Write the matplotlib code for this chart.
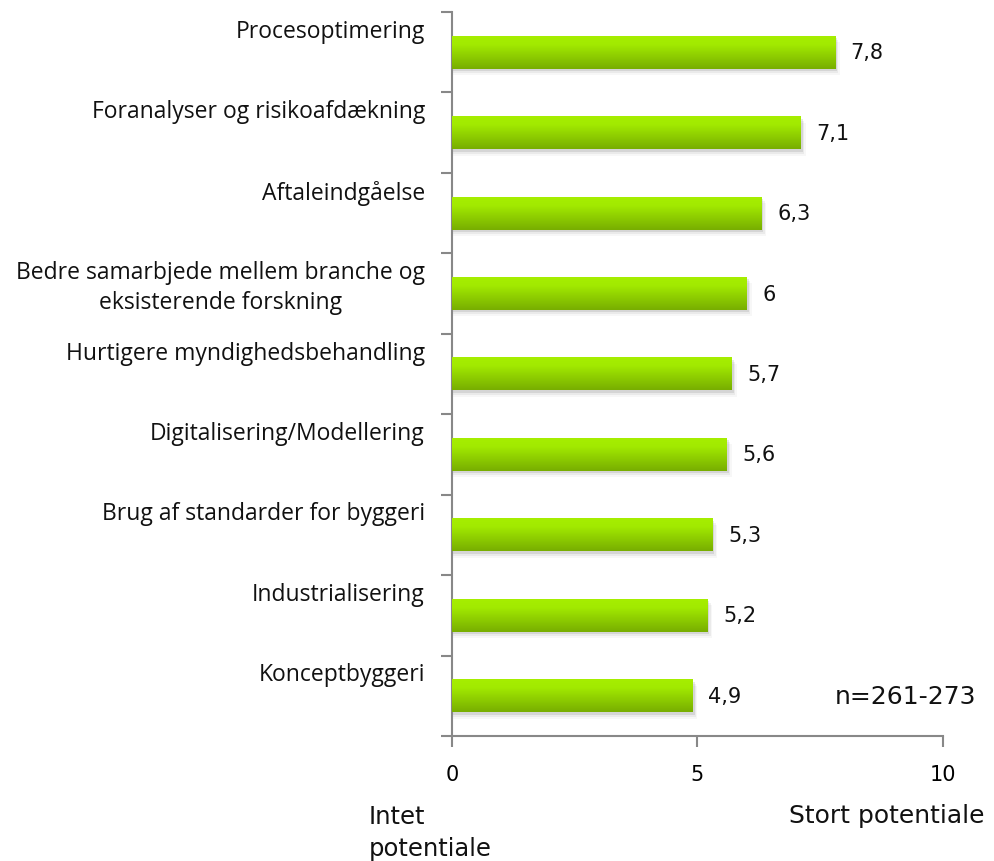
import numpy as np
import matplotlib
matplotlib.use("Agg")
import matplotlib.pyplot as plt
from matplotlib.patches import Rectangle
import matplotlib.transforms as mtransforms
from matplotlib.colors import LinearSegmentedColormap

categories = [
    "Procesoptimering",
    "Foranalyser og risikoafdækning",
    "Aftaleindgåelse",
    "Bedre samarbjede mellem branche og\neksisterende forskning",
    "Hurtigere myndighedsbehandling",
    "Digitalisering/Modellering",
    "Brug af standarder for byggeri",
    "Industrialisering",
    "Konceptbyggeri",
]
values = [7.8, 7.1, 6.3, 6.0, 5.7, 5.6, 5.3, 5.2, 4.9]
value_labels = ["7,8", "7,1", "6,3", "6", "5,7", "5,6", "5,3", "5,2", "4,9"]
xticks = [0, 5, 10]

fig = plt.figure(figsize=(9.94, 8.62), dpi=100)
ax = fig.add_axes([0.4547, 0.145, 0.494, 0.840])

# light at the top, darker at the bottom
grad = LinearSegmentedColormap.from_list("g", [(0, "#a6ee00"), (0.25, "#a2ea00"), (1, "#78ae00")])
bar_h = 0.41
ypos = np.arange(len(values))

for y, v, lab in zip(ypos, values, value_labels):
    # soft shadow under the bar
    for k, a in enumerate([0.09, 0.05, 0.03]):
        sh = Rectangle((0.03, y - bar_h / 2 + 0.03 + k * 0.025), v + 0.01 + k * 0.03,
                       bar_h, color="black", alpha=a, lw=0, zorder=1)
        ax.add_patch(sh)
    rect = Rectangle((0, y - bar_h / 2), v, bar_h, facecolor="none", lw=0, zorder=3)
    ax.add_patch(rect)
    im = ax.imshow(np.linspace(0, 1, 50).reshape(-1, 1), cmap=grad, aspect="auto",
                   origin="upper", extent=(0, v, y + bar_h / 2, y - bar_h / 2),
                   zorder=3, interpolation="bilinear")
    im.set_clip_path(rect)
    ax.text(v + 0.32, y, lab, va="center", ha="left", fontsize=15, family="DejaVu Sans", color="#111111")

ax.set_xlim(0, 10)
ax.set_ylim(len(values) - 0.5, -0.5)

for s in ["top", "right"]:
    ax.spines[s].set_visible(False)
for s in ["left", "bottom"]:
    ax.spines[s].set_color("#888888")
    ax.spines[s].set_linewidth(1.5)

ax.set_xticks(xticks)
ax.set_xticklabels([str(t) for t in xticks], fontsize=15, family="DejaVu Sans")
ax.tick_params(axis="x", length=8, width=1.5, color="#888888", pad=12)
ax.set_yticks(np.arange(-0.5, len(values), 1.0))
ax.set_yticklabels([])
ax.tick_params(axis="y", length=8, width=1.5, color="#888888")

trans = mtransforms.blended_transform_factory(ax.transAxes, ax.transData)
for y, c in zip(ypos, categories):
    ax.text(-0.055, y - 0.5 + 0.085, c, transform=trans, ha="right", va="top",
            multialignment="center", fontsize=16.5, family="Open Sans", linespacing=1.3, color="#111111")

fig.text(835 / 994, 1 - 697 / 862, "n=261-273", ha="left", va="center", fontsize=18, family="DejaVu Sans", color="#111111")
fig.text(369 / 994, 1 - 833 / 862, "Intet\npotentiale", ha="left", va="center", fontsize=17.5,
         family="DejaVu Sans", linespacing=1.4, color="#111111")
fig.text(789 / 994, 1 - 816 / 862, "Stort potentiale", ha="left", va="center", fontsize=18, family="DejaVu Sans", color="#111111")

fig.savefig("out.png", dpi=100)
